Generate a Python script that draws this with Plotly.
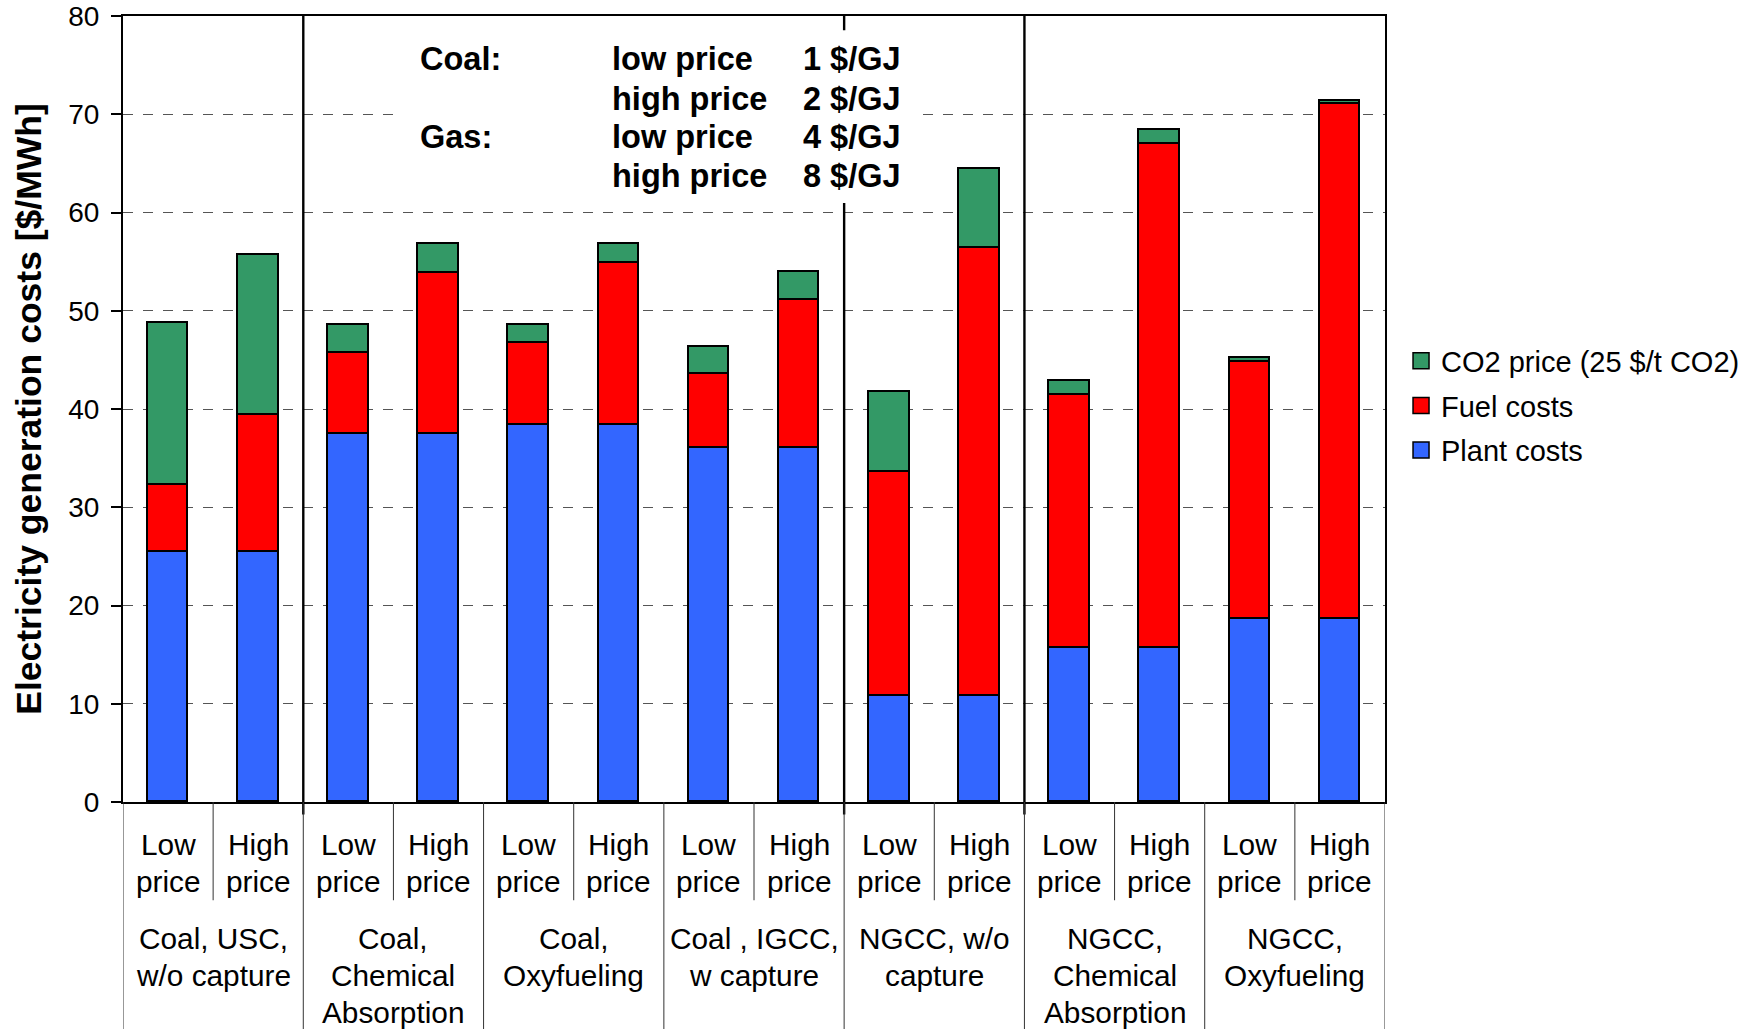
import plotly.graph_objects as go

# ---------------- data ----------------
groups = ["Coal, USC,<br>w/o capture", "Coal,<br>Chemical<br>Absorption", "Coal,<br>Oxyfueling",
          "Coal , IGCC,<br>w capture", "NGCC, w/o<br>capture", "NGCC,<br>Chemical<br>Absorption",
          "NGCC,<br>Oxyfueling"]
price_cases = ["Low<br>price", "High<br>price"]

plant_costs = [25.4, 25.4, 37.5, 37.5, 38.4, 38.4, 36.0, 36.0, 10.8, 10.8, 15.7, 15.7, 18.6, 18.6]
fuel_costs = [6.9, 14.0, 8.2, 16.3, 8.3, 16.5, 7.6, 15.1, 22.8, 45.6, 25.7, 51.3, 26.2, 52.4]
co2_costs = [16.5, 16.3, 2.9, 3.0, 1.8, 1.9, 2.7, 2.8, 8.1, 8.0, 1.4, 1.4, 0.4, 0.3]

series_names = ["Plant costs", "Fuel costs", "CO2 price (25 $/t CO2)"]

y_ticks = [0, 10, 20, 30, 40, 50, 60, 70, 80]
y_title = "Electricity generation costs [$/MWh]"

note_fuels = ["Coal:", "", "Gas:", ""]
note_levels = ["low price", "high price", "low price", "high price"]
note_prices = ["1 $/GJ", "2 $/GJ", "4 $/GJ", "8 $/GJ"]

# ---------------- style ----------------
colors = ["#3366FF", "#FF0000", "#339966"]
legend_ranks = [3, 2, 1]
FONT = "Arial, Liberation Sans, sans-serif"
separator_after = [1, 7, 9]   # thick vertical separators after these bar indices
LINE_STEP = 0.0471            # category label line spacing (paper units)

n_bars = len(plant_costs)
xs = list(range(n_bars))
bar_labels = [price_cases[i % 2] for i in xs]

fig = go.Figure()
for vals, name, col in zip([plant_costs, fuel_costs, co2_costs], series_names, colors):
    fig.add_trace(go.Bar(
        x=xs, y=vals, name=name, width=0.45,
        marker=dict(color=col, line=dict(color="black", width=1.6)),
        legendgroup=name, showlegend=False,
    ))
# legend entries (square swatches)
for name, col, rk in zip(series_names, colors, legend_ranks):
    fig.add_trace(go.Scatter(
        x=[None], y=[None], mode="markers", name=name, legendgroup=name, legendrank=rk,
        marker=dict(symbol="square", size=17, color=col, line=dict(color="black", width=1.5)),
        showlegend=True,
    ))

shapes = []
# thick separators inside the plot
for i in separator_after:
    shapes.append(dict(type="line", xref="x", yref="paper", x0=i + 0.5, x1=i + 0.5,
                       y0=1, y1=-0.016, line=dict(color="black", width=2.4)))
# category-axis dividers
per_group = len(price_cases)
for b in range(n_bars + 1):
    xb = b - 0.5
    y1 = -0.30 if b % per_group == 0 else -0.125
    shapes.append(dict(type="line", xref="x", yref="paper", x0=xb, x1=xb,
                       y0=0, y1=y1, line=dict(color="#333333", width=1)))
# white box behind note
shapes.append(dict(type="rect", xref="paper", yref="paper", x0=0.2211, x1=0.6323,
                   y0=0.762, y1=0.982, fillcolor="white", line=dict(width=0), layer="above"))

annotations = []


def add_lines(text, x, y_top):
    for j, line in enumerate(text.split("<br>")):
        annotations.append(dict(x=x, y=y_top - j * LINE_STEP, xref="x", yref="paper", text=line,
                                showarrow=False, xanchor="center", yanchor="top",
                                font=dict(family=FONT, size=29.8, color="black")))


for i in xs:
    add_lines(bar_labels[i], i, -0.031)
for g, name in enumerate(groups):
    add_lines(name, g * per_group + (per_group - 1) / 2, -0.150)

row_y = [0.945, 0.895, 0.846, 0.797]
col_x = [0.2334, 0.3856, 0.5375]
for r in range(len(note_levels)):
    for c, txt in enumerate([note_fuels[r], note_levels[r], note_prices[r]]):
        if txt:
            annotations.append(dict(x=col_x[c], y=row_y[r], xref="paper", yref="paper", text="<b>" + txt + "</b>",
                                    showarrow=False, xanchor="left", yanchor="middle",
                                    font=dict(family=FONT, size=32.5, color="black")))

fig.update_layout(
    width=1751, height=1029,
    margin=dict(l=123, r=366, t=16, b=227, autoexpand=False),
    paper_bgcolor="white", plot_bgcolor="white",
    barmode="stack",
    font=dict(family=FONT, size=28, color="black"),
    showlegend=True,
    legend=dict(x=1.0127, y=0.504, xanchor="left", yanchor="middle",
                traceorder="grouped", tracegroupgap=4,
                font=dict(family=FONT, size=29, color="black"),
                bgcolor="rgba(0,0,0,0)"),
    shapes=shapes,
    annotations=annotations,
    bargap=0,
)
fig.update_xaxes(range=[-0.5, n_bars - 0.5], showticklabels=False, ticks="",
                 showgrid=False, zeroline=False, showline=True, linecolor="black",
                 linewidth=2, mirror=True, automargin=False)
fig.update_yaxes(range=[0, 80], tickvals=y_ticks, ticks="outside", ticklen=10, tickwidth=1.5,
                 tickcolor="black", showline=True, linecolor="black", linewidth=2, mirror=True,
                 showgrid=True, gridcolor="#555555", gridwidth=1.2, griddash="10px,10px",
                 zeroline=False, tickfont=dict(family=FONT, size=28, color="black"),
                 ticklabelstandoff=6, automargin=False, ticklabeloverflow="allow",
                 title=dict(text="<b>" + y_title + "</b>", standoff=16,
                            font=dict(family=FONT, size=35.5, color="black")))

# remove the page's default body margin so the figure fills the window exactly
fig.write_html("out.html", config={"displayModeBar": False},
               post_script="document.body.style.margin='0';")
